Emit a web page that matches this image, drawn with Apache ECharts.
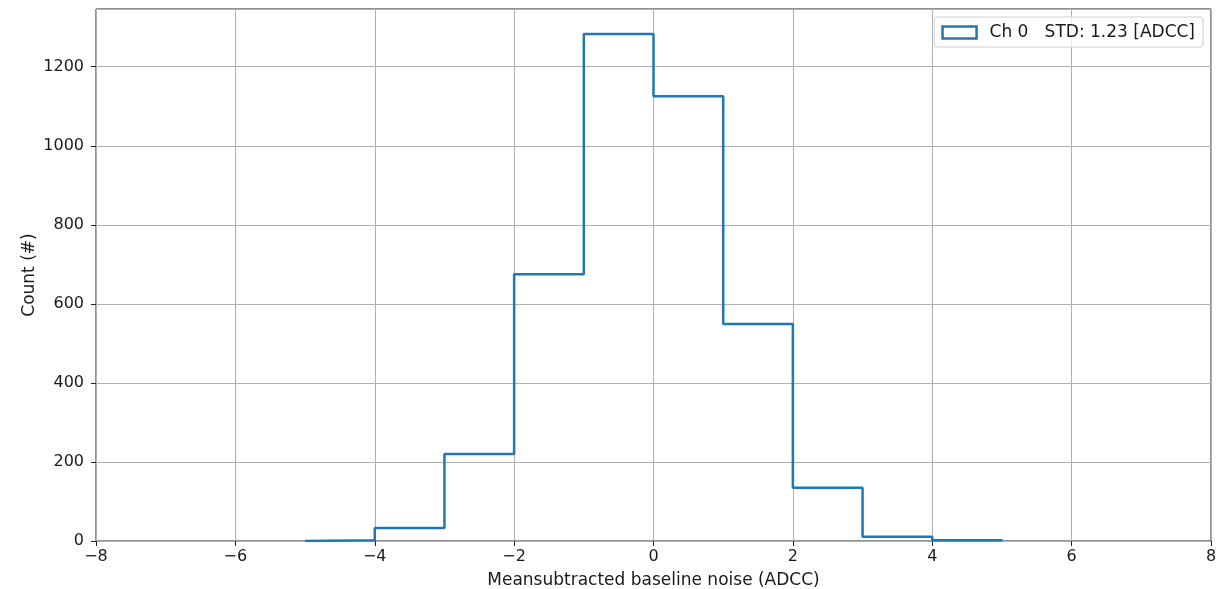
<!DOCTYPE html>
<html>
<head>
<meta charset="utf-8">
<script src="https://cdn.jsdelivr.net/npm/echarts@6/dist/echarts.min.js"></script>
<style>
html,body{margin:0;padding:0;background:#fff;}
#chart{width:1231px;height:589px;}
</style>
</head>
<body>
<div id="chart"></div>
<script>
// Histogram data (bin edges and counts)
const binEdges = [-5, -4, -3, -2, -1, 0, 1, 2, 3, 4, 5];
const counts = [2, 33, 220, 675, 1283, 1125, 549, 135, 11, 2];
const seriesName = 'Ch 0   STD: 1.23 [ADCC]';
const xTicks = [-8, -6, -4, -2, 0, 2, 4, 6, 8];
const yTicks = [0, 200, 400, 600, 800, 1000, 1200];

// Build step outline (matplotlib histtype='step')
const pts = [[binEdges[0], 0]];
for (let i = 0; i < counts.length; i++) {
  pts.push([binEdges[i], counts[i]]);
  pts.push([binEdges[i + 1], counts[i]]);
}
pts.push([binEdges[binEdges.length - 1], 0]);

const font = 'DejaVu Sans';
const txt = '#1a1a1a';
const chart = echarts.init(document.getElementById('chart'), null, {renderer: 'canvas'});
chart.setOption({
  animation: false,
  backgroundColor: '#fff',
  grid: {left: 96, right: 20, top: 9, bottom: 48, outerBoundsMode: 'none', containLabel: false,
    show: true, borderColor: '#222', borderWidth: 1, backgroundColor: 'transparent'},
  legend: {
    right: 28, top: 17,
    data: [{name: seriesName, icon: 'rect'}],
    itemWidth: 34, itemHeight: 12,
    itemStyle: {color: '#fff', borderColor: '#1f77b4', borderWidth: 2.5},
    textStyle: {fontFamily: font, fontSize: 17, color: txt, padding: [0, 0, 0, 8]},
    backgroundColor: 'rgba(255,255,255,0.8)',
    borderColor: '#d0d0d0', borderWidth: 1, borderRadius: 3,
    padding: [7, 8, 6, 7], itemGap: 10
  },
  xAxis: {
    type: 'value', min: -8, max: 8, interval: 2,
    name: 'Meansubtracted baseline noise (ADCC)',
    nameLocation: 'middle', nameGap: 31,
    nameTextStyle: {fontFamily: font, fontSize: 17, color: txt},
    axisLine: {show: false, onZero: false},
    axisTick: {show: true, length: 5, lineStyle: {color: '#222'}},
    axisLabel: {fontFamily: font, fontSize: 16, color: txt, margin: 8,
      formatter: v => (xTicks.includes(v) ? String(v).replace('-', '\u2212') : '')},
    splitLine: {show: true, lineStyle: {color: '#b0b0b0', width: 1}}
  },
  yAxis: {
    type: 'value', min: 0, max: 1346, interval: 200,
    name: 'Count (#)', nameLocation: 'middle', nameGap: 58, nameRotate: 90,
    nameMoveOverlap: false,
    nameTextStyle: {fontFamily: font, fontSize: 17, color: txt},
    axisLine: {show: false, onZero: false},
    axisTick: {show: true, length: 5, lineStyle: {color: '#222'}},
    axisLabel: {fontFamily: font, fontSize: 16, color: txt, margin: 12, showMaxLabel: false,
      formatter: v => (yTicks.includes(v) ? String(v) : '')},
    splitLine: {show: true, lineStyle: {color: '#b0b0b0', width: 1}}
  },
  series: [{
    name: seriesName,
    type: 'line',
    data: pts,
    showSymbol: false,
    symbol: 'none',
    lineStyle: {color: '#1f77b4', width: 2.5},
    itemStyle: {color: '#1f77b4'},
    z: 5
  }]
});
</script>
</body>
</html>
